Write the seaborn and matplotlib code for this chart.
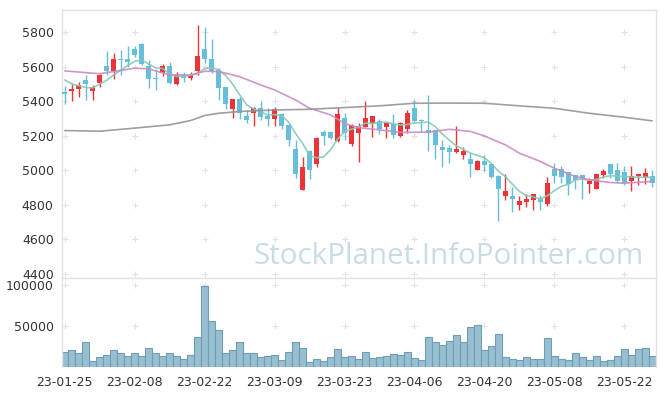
import numpy as np
import pandas as pd
import seaborn as sns
import matplotlib.pyplot as plt

# trading days (KRX), 23-01-25 .. 23-05-26
dates = pd.bdate_range("2023-01-25", "2023-05-26", freq="C",
                       holidays=["2023-03-01", "2023-05-01", "2023-05-05"])

open_ = [5455, 5462, 5470, 5524, 5462, 5508, 5605, 5578, 5646, 5645,
         5703, 5733, 5605, 5537, 5563, 5605, 5501, 5550, 5537, 5578,
         5703, 5644, 5582, 5482, 5358, 5414, 5318, 5331, 5364, 5318,
         5298, 5326, 5264, 5125, 4884, 5110, 5036, 5220, 5223, 5173,
         5306, 5152, 5214, 5254, 5274, 5287, 5254, 5268, 5202, 5242,
         5364, 5293, 5235, 5235, 5138, 5127, 5106, 5090, 5067, 5003,
         5057, 5038, 4970, 4853, 4853, 4801, 4820, 4826, 4834, 4805,
         5007, 5007, 4988, 4974, 4974, 4922, 4892, 4974, 5038, 5003,
         4988, 4936, 4965, 4961, 4965]
high = [5490, 5500, 5510, 5555, 5495, 5560, 5690, 5678, 5700, 5720,
        5718, 5735, 5640, 5590, 5615, 5630, 5572, 5572, 5572, 5842,
        5832, 5760, 5592, 5485, 5414, 5425, 5350, 5366, 5400, 5360,
        5370, 5331, 5270, 5177, 5080, 5120, 5195, 5235, 5228, 5366,
        5332, 5266, 5272, 5402, 5318, 5295, 5280, 5326, 5280, 5352,
        5405, 5297, 5437, 5235, 5177, 5148, 5258, 5135, 5100, 5060,
        5090, 5040, 4976, 4980, 4903, 4853, 4864, 4864, 4859, 4961,
        5042, 5026, 4988, 4974, 4974, 4955, 4980, 5007, 5040, 5042,
        5026, 5026, 4982, 5013, 5003]
low = [5385, 5400, 5425, 5410, 5408, 5485, 5555, 5530, 5550, 5600,
       5655, 5612, 5480, 5465, 5545, 5500, 5492, 5514, 5525, 5553,
       5621, 5563, 5408, 5355, 5302, 5300, 5275, 5255, 5293, 5258,
       5258, 5239, 5142, 4955, 4884, 4950, 5020, 5145, 5180, 5167,
       5177, 5140, 5051, 5252, 5192, 5212, 5188, 5188, 5195, 5218,
       5272, 5220, 5110, 5065, 5022, 5042, 5100, 5065, 4960, 5000,
       4995, 4955, 4705, 4830, 4762, 4772, 4787, 4768, 4772, 4795,
       4930, 4930, 4859, 4890, 4834, 4871, 4890, 4955, 4955, 4930,
       4917, 4878, 4917, 4921, 4903]
close = [5440, 5470, 5493, 5503, 5484, 5553, 5578, 5648, 5638, 5625,
         5668, 5618, 5530, 5530, 5605, 5505, 5550, 5538, 5553, 5663,
         5644, 5578, 5480, 5385, 5412, 5335, 5290, 5360, 5312, 5300,
         5356, 5258, 5175, 4980, 5017, 5003, 5190, 5200, 5188, 5326,
         5216, 5264, 5258, 5306, 5316, 5242, 5277, 5204, 5275, 5333,
         5287, 5286, 5216, 5145, 5120, 5104, 5125, 5115, 5038, 5056,
         5032, 4960, 4895, 4879, 4836, 4824, 4834, 4862, 4820, 4926,
         4970, 4961, 4922, 4946, 4950, 4940, 4980, 4994, 4980, 4940,
         4930, 4969, 4982, 4986, 4930]
# closes of the 4 days before the window (for the 5-day average)
prev_close = [5585, 5548, 5553, 5494]

volume = [19000, 21400, 17800, 31000, 7100, 11900, 15500, 21400, 17800, 14300,
          17800, 14300, 23800, 17800, 14300, 17800, 13100, 9500, 15500, 36900,
          98800, 56000, 45200, 17800, 21400, 31000, 17800, 17800, 11900, 13100,
          15500, 8300, 19000, 31000, 23800, 6000, 9500, 7100, 11900, 22600,
          11900, 13100, 9500, 19000, 10700, 11900, 13100, 16700, 15500, 19000,
          10700, 8300, 36900, 31000, 27400, 32100, 39300, 31000, 48800, 51200,
          21400, 26200, 40500, 11900, 9500, 8300, 11900, 9500, 9500, 35700,
          13100, 9500, 8300, 17800, 11900, 8300, 13100, 7100, 8300, 13100,
          22600, 15500, 22600, 23800, 14300]

# 20-day and long moving averages
ma20_idx = [0, 5, 10, 12, 15, 18, 20, 22, 25, 28, 30, 33, 35, 38, 40, 42, 45,
            48, 50, 52, 55, 58, 60, 63, 65, 68, 70, 73, 75, 78, 80, 84]
ma20_val = [5576, 5560, 5592, 5588, 5553, 5553, 5574, 5573, 5543, 5495, 5466,
            5408, 5360, 5322, 5272, 5248, 5235, 5220, 5221, 5222, 5238, 5226,
            5200, 5148, 5100, 5052, 5013, 4965, 4946, 4930, 4926, 4936]
malong_idx = [0, 5, 10, 15, 18, 20, 22, 25, 30, 35, 40, 45, 50, 55, 60, 65,
              70, 75, 80, 84]
malong_val = [5231, 5227, 5245, 5264, 5289, 5318, 5331, 5341, 5350, 5354,
              5364, 5374, 5389, 5390, 5389, 5374, 5360, 5331, 5308, 5287]

x_ticks = [0, 10, 20, 30, 40, 50, 60, 70, 80]
x_labels = [d.strftime("%y-%m-%d") for d in dates[x_ticks]]
price_ticks = [4400, 4600, 4800, 5000, 5200, 5400, 5600, 5800]
vol_ticks = [50000, 100000]

UP = "#ec3338"
DOWN = "#66bedb"
GRID = "#e2e2e2"

df = pd.DataFrame({"open": open_, "high": high, "low": low, "close": close,
                   "volume": volume})
df["i"] = np.arange(len(df))
ma5 = pd.Series(prev_close + close).rolling(5).mean().iloc[4:].to_numpy()
df["ma5"] = ma5

sns.set_theme(style="white")
plt.rcParams["font.family"] = ["DejaVu Sans"]

fig = plt.figure(figsize=(6.65, 3.96), dpi=100)
ax = fig.add_axes([62 / 665, 1 - 278 / 396, (655.7 - 62) / 665, 268 / 396])
axv = fig.add_axes([62 / 665, 1 - 367.3 / 396, (655.7 - 62) / 665, 89.3 / 396])

# watermark
fig.text(449 / 665, 1 - 256 / 396, "StockPlanet.InfoPointer.com",
         fontsize=21.3, color="#c9dce6", ha="center", va="center",
         family="Open Sans", zorder=0)

# grid crosses
for a, yt in ((ax, price_ticks), (axv, vol_ticks)):
    gx, gy = np.meshgrid(x_ticks, yt)
    a.plot(gx.ravel(), gy.ravel(), "+", color=GRID, ms=4, mew=0.8, zorder=0)

# candles
up = df["close"] >= df["open"]
colors = np.where(up, UP, DOWN)
ax.vlines(df["i"], df["low"], df["high"], colors=colors, lw=1, zorder=2)
body = (df["close"] - df["open"]).abs().clip(lower=4)
ax.bar(df["i"], body, bottom=df[["open", "close"]].min(axis=1), width=0.72,
       color=colors, linewidth=0, zorder=3)

# moving averages
sns.lineplot(data=df, x="i", y="ma5", ax=ax, color="#86c8b6", lw=1.2,
             alpha=0.9, zorder=4)
sns.lineplot(x=ma20_idx, y=ma20_val, ax=ax, color="#c98bc4", lw=1.2,
             alpha=0.9, zorder=4)
sns.lineplot(x=malong_idx, y=malong_val, ax=ax, color="#959595", lw=1.2,
             alpha=0.9, zorder=4)

ax.set_xlim(-0.4, 84.5)
ax.set_ylim(4377, 5929)
ax.set_xticks(x_ticks)
ax.set_xticklabels([])
ax.set_yticks(price_ticks)
ax.set_xlabel("")
ax.set_ylabel("")

# volume
sns.barplot(data=df, x="i", y="volume", ax=axv, color="#97bfd1",
            edgecolor="#6f9db3", linewidth=0.8, width=0.95, saturation=1,
            native_scale=True, zorder=2)
axv.set_xlim(-0.4, 84.5)
axv.set_ylim(0, 108300)
axv.set_xticks(x_ticks)
axv.set_xticklabels(x_labels)
axv.set_yticks(vol_ticks)
axv.set_yticklabels([str(v) for v in vol_ticks])
axv.set_xlabel("")
axv.set_ylabel("")

for a in (ax, axv):
    a.tick_params(length=0, labelsize=9, colors="#333333", pad=6)
    for s in a.spines.values():
        s.set_color(GRID)
        s.set_linewidth(1)
axv.spines["bottom"].set_visible(False)

fig.savefig("out.png", dpi=100, facecolor="white")
